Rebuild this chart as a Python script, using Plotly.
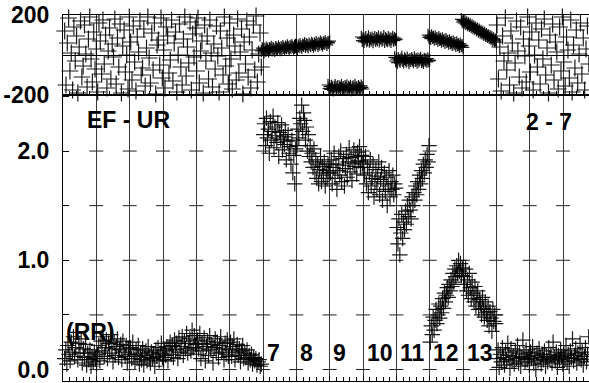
import numpy as np
import plotly.graph_objects as go

# beat segments (x in time units) and their labels
seg_edges = [6, 7, 8, 9, 10, 11, 12, 13]
seg_labels = ['7', '8', '9', '10', '11', '12', '13']

# ---- upper panel: phase (deg) ----
phase_rr = [120, -150, 60, 185, -80, 10, -175, 140, -30, 95, -190, 40, 170, -110, -55, 150, 5, -160, 80, 190, -20, -135, 115, -70, 30,
            -185, 160, 70, -95, 175, -45, 100, -165, 20, 135, -120, 55, -10, 180, -145, 85, -60, 155, -190, 45, 125, -85, 0, -170, 190,
            65, -125, 145, -35, -180, 90, 15, 170, -100, -65, 130, -155, 35, 190, -15, -140, 110, -75, 160, -195, 50, 75, -50, 185, -115,
            25, -165, 140, 95, -90, -25, 175, -130, 60, 115, -185, 0, 155, -60, -150, 80, 190, -105, 40, -40, 165, -175, 105, -10, 135,
            -80, 185, -140, 20, 70, -190, 150, -30, 95, -120, 175, 10, -160, 55, -70, 145, -5, -185, 120, 35, -100, 190, -55, 85, -145,
            160, -20, -170, 100, 45, -125, 180, -90, 15, 130, -195, 65, -45, 170, -110, 90, -165, 25, 150, -75, 195, -135, 5, 110, -60]
phase_7 = [20, 34, 26, 14, 31, 22, 36, 27, 18, 33, 29, 40, 24, 35, 30, 21, 38, 32, 27, 42,
           34, 25, 39, 31, 44, 36, 28, 41, 35, 47, 38, 30, 43, 37, 49, 40, 33, 46, 42, 50]
phase_8 = [36, 50, 42, 31, 47, 40, 53, 44, 37, 51, 46, 58, 41, 54, 48, 39, 56, 50, 45, 60,
           52, 43, 57, 49, 63, 55, 46, 60, 53, 66, 57, 48, 62, 56, 68, 59, 51, 64, 61, 69]
phase_9 = [-150, -168, -158, -172, -155, -164, -176, -160, -152, -170, -162, -156, -174, -159, -166, -151, -169, -161, -173, -157,
           -165, -153, -171, -160, -167, -155, -175, -163, -158, -170, -150, -166, -161, -172, -156, -164, -168, -154, -162, -170]
phase_10 = [90, 72, 84, 66, 80, 88, 70, 76, 92, 68, 82, 74, 86, 65, 79, 89, 71, 83, 75, 91,
            69, 81, 87, 73, 78, 93, 67, 85, 77, 70, 88, 74, 82, 66, 80, 90, 72, 84, 76, 79]
phase_11 = [-12, -30, -20, -38, -16, -26, -34, -22, -10, -28, -36, -18, -24, -32, -14, -27, -40, -21, -30, -17,
            -25, -35, -13, -29, -22, -37, -19, -31, -24, -15, -33, -26, -39, -20, -28, -23, -34, -18, -30, -27]
phase_12 = [100, 88, 94, 82, 97, 86, 90, 78, 92, 80, 84, 72, 88, 76, 80, 68, 82, 70, 75, 62,
            78, 66, 70, 58, 72, 60, 64, 52, 67, 55, 60, 47, 62, 50, 54, 42, 56, 45, 48, 38]
phase_13 = [178, 165, 172, 160, 168, 155, 162, 150, 158, 146, 152, 140, 147, 135, 142, 130, 136, 125, 131, 118,
            126, 113, 120, 108, 115, 102, 110, 97, 104, 92, 98, 86, 93, 80, 88, 75, 82, 70, 76, 64]
phase_end = [150, -120, 40, -180, 95, -30, 185, -75, 10, -150, 120, 60, -190, -40, 170, 20, -110, 140, -165, 80,
             -5, -135, 190, 45, -85, 115, -175, 0, 160, -60, 75, -145, 130, -20, 180, -100, 35, -190, 100, -50,
             155, -125, 65, 15, -170, 140, -80, 190, -35, -155, 90, 25, -115, 175, -185, 50, -65, 125, -140, 5,
             160, -95, 85, -175, 30, 145, -45, -120, 110, 195]

# ---- lower panel: amplitude ----
amp_rr = [0.10, 0.18, 0.05, 0.22, 0.14, 0.08, 0.25, 0.16, 0.30, 0.12, 0.20, 0.34, 0.09, 0.24, 0.15, 0.28, 0.06, 0.19, 0.11, 0.23, 0.04, 0.15, 0.09, 0.18, 0.03, 0.12, 0.07, 0.16, 0.10, 0.05,
          0.14, 0.22, 0.08, 0.26, 0.17, 0.30, 0.12, 0.20, 0.27, 0.10, 0.24, 0.15, 0.32, 0.19, 0.07, 0.25, 0.13, 0.21, 0.28, 0.11, 0.18, 0.23, 0.09, 0.26, 0.16, 0.12, 0.22, 0.06, 0.19, 0.14,
          0.20, 0.10, 0.25, 0.14, 0.07, 0.18, 0.12, 0.22, 0.05, 0.15, 0.09, 0.19, 0.04, 0.13, 0.17, 0.08, 0.21, 0.11, 0.06, 0.16, 0.10, 0.14, 0.03, 0.18, 0.12, 0.20, 0.08, 0.15, 0.24, 0.11,
          0.09, 0.17, 0.13, 0.21, 0.08, 0.19, 0.25, 0.14, 0.22, 0.11, 0.27, 0.18, 0.24, 0.10, 0.29, 0.16, 0.21, 0.30, 0.13, 0.26, 0.19, 0.33, 0.15, 0.24, 0.28, 0.17, 0.36, 0.20, 0.31, 0.23,
          0.14, 0.27, 0.19, 0.33, 0.10, 0.24, 0.17, 0.29, 0.08, 0.21, 0.26, 0.13, 0.31, 0.18, 0.23, 0.06, 0.20, 0.28, 0.15, 0.25, 0.11, 0.22, 0.30, 0.16, 0.19, 0.09, 0.24, 0.14, 0.27, 0.12,
          0.18, 0.25, 0.12, 0.21, 0.28, 0.09, 0.16, 0.23, 0.13, 0.19, 0.07, 0.17, 0.22, 0.10, 0.15, 0.11, 0.18, 0.06, 0.13, 0.09, 0.14, 0.05, 0.11, 0.08, 0.10, 0.04, 0.07, 0.09, 0.03, 0.05]
amp_7 = [2.15, 2.25, 2.05, 2.30, 2.12, 2.20, 1.98, 2.27, 2.10, 2.18, 2.32, 2.03, 2.22, 2.14, 2.08, 2.26, 1.95, 2.17, 2.11, 2.24,
         2.01, 2.13, 2.06, 2.19, 1.92, 2.09, 2.15, 1.98, 2.04, 1.88, 2.10, 1.80, 1.96, 1.70, 2.02]
amp_8 = [2.05, 2.20, 2.12, 2.30, 2.25, 2.42, 2.18, 2.35, 2.28, 2.10, 2.22, 2.00, 2.15, 1.95, 2.05, 1.90, 1.98, 1.85, 2.02, 1.80,
         1.92, 1.75, 1.88, 1.70, 1.83, 1.95, 1.72, 1.86, 1.78, 1.90, 1.68, 1.82, 1.75, 1.88, 1.80]
amp_9 = [1.80, 1.92, 1.70, 1.85, 1.98, 1.75, 1.88, 1.65, 1.82, 1.95, 1.78, 2.00, 1.72, 1.87, 1.93, 1.68, 1.84, 1.97, 1.76, 1.90,
         2.03, 1.81, 1.94, 1.73, 1.89, 2.01, 1.86, 1.95, 1.79, 1.99, 1.91, 2.04, 1.85, 1.96, 1.88]
amp_10 = [1.90, 1.78, 1.95, 1.70, 1.85, 1.62, 1.80, 1.92, 1.68, 1.75, 1.88, 1.58, 1.72, 1.83, 1.65, 1.77, 1.90, 1.60, 1.74, 1.85,
          1.55, 1.70, 1.80, 1.63, 1.76, 1.50, 1.68, 1.82, 1.58, 1.72, 1.65, 1.78, 1.60, 1.70, 1.66]
amp_11 = [1.30, 1.15, 1.38, 1.05, 1.25, 1.42, 1.20, 1.35, 1.28, 1.45, 1.33, 1.50, 1.40, 1.55, 1.46, 1.38, 1.58, 1.50, 1.62, 1.55,
          1.68, 1.60, 1.72, 1.65, 1.78, 1.70, 1.82, 1.75, 1.88, 1.80, 1.92, 1.85, 1.97, 1.90, 2.05]
amp_12 = [0.25, 0.40, 0.32, 0.48, 0.36, 0.45, 0.55, 0.42, 0.50, 0.60, 0.47, 0.58, 0.52, 0.65, 0.56, 0.70, 0.62, 0.68, 0.75, 0.66,
          0.78, 0.72, 0.82, 0.76, 0.88, 0.80, 0.92, 0.85, 0.95, 0.88, 1.00, 0.90, 0.97, 0.86, 0.93]
amp_13 = [0.85, 0.78, 0.92, 0.72, 0.82, 0.68, 0.88, 0.75, 0.65, 0.80, 0.70, 0.62, 0.76, 0.58, 0.68, 0.72, 0.55, 0.64, 0.60, 0.50,
          0.66, 0.56, 0.48, 0.62, 0.52, 0.45, 0.58, 0.40, 0.53, 0.47, 0.35, 0.55, 0.44, 0.50, 0.42]
amp_end = [0.10, 0.18, 0.02, 0.14, 0.07, 0.20, 0.11, 0.04, 0.16, 0.09, 0.24, 0.13, 0.01, 0.19, 0.08, 0.12, 0.05, 0.17, 0.10, 0.22,
           0.06, 0.15, 0.03, 0.11, 0.27, 0.14, 0.07, 0.18, 0.09, 0.12, 0.04, 0.16, 0.10, 0.21, 0.06, 0.13, 0.00, 0.15, 0.08, 0.19,
           0.11, 0.05, 0.14, 0.09, 0.17, 0.03, 0.12, 0.07, 0.20, 0.10, 0.14, 0.06, 0.25, 0.11, 0.08, 0.16, 0.02, 0.13, 0.09, 0.18,
           0.12, 0.05, 0.15, 0.10, 0.22, 0.07, 0.14, 0.03, 0.17, 0.11, 0.28, 0.08, 0.13, 0.19, 0.06, 0.15, 0.10, 0.24, 0.09, 0.16,
           0.04, 0.12, 0.20, 0.07, 0.14, 0.30, 0.11, 0.18, 0.08, 0.13]

phase_segs = [phase_7, phase_8, phase_9, phase_10, phase_11, phase_12, phase_13]
amp_segs = [amp_7, amp_8, amp_9, amp_10, amp_11, amp_12, amp_13]

FONT = 'Liberation Sans'
INK = 'rgba(0,0,0,0.9)'
GRID = '#3a3a3a'


def seg_x(a, b, vals):
    # samples spread evenly through the segment
    return np.linspace(a, b, len(vals))


def add_cloud(fig, x, y, yaxis, size=11):
    fig.add_trace(go.Scatter(
        x=x, y=y, mode='markers', xaxis='x' if yaxis == 'y' else 'x2', yaxis=yaxis,
        marker=dict(symbol='cross-thin', size=size, line=dict(width=1.2, color=INK)),
        cliponaxis=False, showlegend=False, hoverinfo='skip',
    ))


fig = go.Figure()

# lower panel (x / y)
add_cloud(fig, seg_x(0.05, 5.95, amp_rr), amp_rr, 'y')
for i, vals in enumerate(amp_segs):
    add_cloud(fig, seg_x(seg_edges[i] + 0.02, seg_edges[i] + 0.98, vals), vals, 'y')
add_cloud(fig, seg_x(13.02, 15.9, amp_end), amp_end, 'y')

# upper panel (x2 / y2)
add_cloud(fig, seg_x(0.05, 5.95, phase_rr), phase_rr, 'y2', size=12)
for i, vals in enumerate(phase_segs):
    add_cloud(fig, seg_x(seg_edges[i] - 0.05, seg_edges[i] + 1.0, vals), vals, 'y2', size=9)
add_cloud(fig, seg_x(13.02, 15.9, phase_end), phase_end, 'y2', size=12)

# short horizontal tick dashes on every vertical grid line of the lower panel
gx, gy = [], []
for xv in range(1, 16):
    for yv in [0, 0.5, 1.0, 1.5, 2.0]:
        gx.append(xv)
        gy.append(yv)
fig.add_trace(go.Scatter(
    x=gx, y=gy, mode='markers', xaxis='x', yaxis='y',
    marker=dict(symbol='line-ew', size=10, line=dict(width=1, color='#222222')),
    showlegend=False, hoverinfo='skip',
))

tickfont = dict(family=FONT, size=23, color='black', weight='bold')
xcommon = dict(range=[0, 15.78], dtick=1, tick0=0, showgrid=True, gridcolor=GRID, gridwidth=1,
               showline=True, linecolor='black', linewidth=1, mirror=True, automargin=False,
               ticks='inside', ticklen=5, tickcolor='black', showticklabels=False, zeroline=False,
               minor=dict(ticks='inside', dtick=0.2, ticklen=4, tickcolor='black', showgrid=False))

afont = dict(family=FONT, size=23, color='black', weight='bold')
annotations = [
    dict(x=1.97, y=2.28, text='EF - UR', showarrow=False, xref='x', yref='y', font=afont),
    dict(x=14.57, y=2.27, text='2 - 7', showarrow=False, xref='x', yref='y', font=afont),
    dict(x=0.02, y=0.34, text='(RR)', showarrow=False, xref='x', yref='y', xanchor='left', font=afont),
]
for i, lab in enumerate(seg_labels):
    annotations.append(dict(x=seg_edges[i] + 0.05, y=0.15, text=lab, showarrow=False, xref='x', yref='y',
                            xanchor='left', font=afont))

fig.update_layout(
    width=589, height=383,
    margin=dict(l=63, r=0, t=15, b=2),
    paper_bgcolor='white', plot_bgcolor='white',
    xaxis=dict(domain=[0, 1], anchor='y', **xcommon),
    xaxis2=dict(domain=[0, 1], anchor='y2', matches='x', **xcommon),
    yaxis=dict(domain=[0, 0.7814], range=[-0.105, 2.513], tickvals=[0, 1, 2], ticktext=['0.0', '1.0', '2.0'],
               showgrid=False, zeroline=False, showline=True, linecolor='black', linewidth=1, automargin=False,
               ticks='inside', ticklen=6, tickcolor='black', tickfont=tickfont, ticklabelstandoff=8,
               minor=dict(ticks='inside', tick0=0, dtick=0.5, ticklen=6, tickcolor='black', showgrid=False)),
    yaxis2=dict(domain=[0.7814, 1], range=[-200, 200], tickvals=[-200, 200], ticktext=['-200', '200'],
                showgrid=False, zeroline=True, zerolinecolor='black', zerolinewidth=1, automargin=False,
                showline=True, linecolor='black', linewidth=1, ticks='', tickfont=tickfont, ticklabelstandoff=8),
    annotations=annotations,
)

# drop the browser's default body margin so the figure sits at the page corner
fig.write_html('out.html', config={'displayModeBar': False},
               post_script="document.body.style.margin='0';")
